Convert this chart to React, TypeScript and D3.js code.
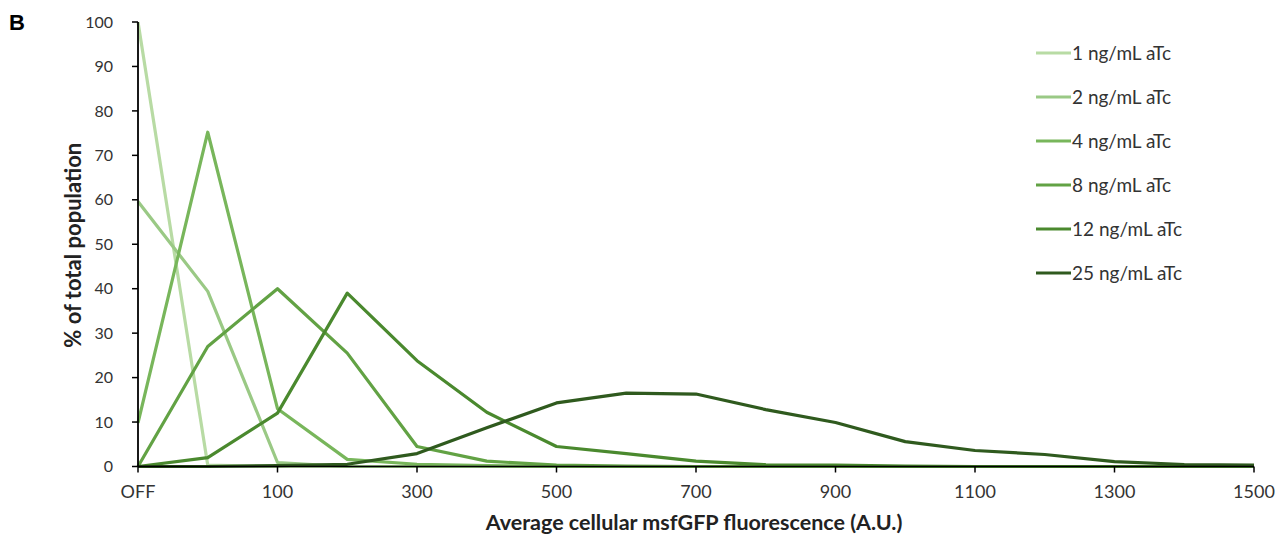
import React from "react";
import { scaleLinear, scalePoint, line } from "d3";

const categories = [
  "OFF", "0", "100", "200", "300", "400", "500", "600", "700",
  "800", "900", "1000", "1100", "1200", "1300", "1400", "1500",
];
const tickLabels = ["OFF", "100", "300", "500", "700", "900", "1100", "1300", "1500"];
const yTicks = [0, 10, 20, 30, 40, 50, 60, 70, 80, 90, 100];

const seriesNames = [
  "1 ng/mL aTc", "2 ng/mL aTc", "4 ng/mL aTc",
  "8 ng/mL aTc", "12 ng/mL aTc", "25 ng/mL aTc",
];
const seriesColors = ["#b8dba4", "#9ac985", "#78b65b", "#62a244", "#4a892e", "#2f5a1e"];

const ng1 = [100, 0.3, 0, 0, 0, 0, 0, 0, 0, 0, 0, 0, 0, 0, 0, 0, 0];
const ng2 = [59.6, 39.4, 0.9, 0, 0, 0, 0, 0, 0, 0, 0, 0, 0, 0, 0, 0, 0];
const ng4 = [9.8, 75.2, 13, 1.6, 0.5, 0.2, 0, 0, 0, 0, 0, 0, 0, 0, 0, 0, 0];
const ng8 = [0, 27, 40, 25.5, 4.5, 1.2, 0.3, 0.1, 0, 0, 0, 0, 0, 0, 0, 0, 0];
const ng12 = [0, 2, 12, 39, 23.8, 12.2, 4.5, 2.9, 1.2, 0.4, 0.3, 0.1, 0, 0, 0, 0, 0];
const ng25 = [0, 0, 0.2, 0.5, 2.9, 8.7, 14.3, 16.5, 16.3, 12.8, 9.9, 5.6, 3.6, 2.7, 1.1, 0.45, 0.3];

const allSeries = [ng1, ng2, ng4, ng8, ng12, ng25];

const width = 1275;
const height = 536;
const margin = { left: 138, right: 21, top: 22, bottom: 69.5 };
const font = "Lato, 'Open Sans', sans-serif";

const App = () => {
  const xScale = scalePoint<string>()
    .domain(categories)
    .range([margin.left, width - margin.right]);

  const yScale = scaleLinear()
    .domain([0, 100])
    .range([height - margin.bottom, margin.top]);

  const path = line<number>()
    .x((d, i) => xScale(categories[i]) as number)
    .y((d) => yScale(d));

  const y0 = yScale(0);

  return (
    <svg
      width={width}
      height={height}
      style={{ position: "absolute", left: 0, top: 0, background: "#fff" }}
    >
      <text x={9} y={30} fontFamily="Arial, 'Liberation Sans'" fontWeight="bold" fontSize={22}>
        B
      </text>

      {/* lines */}
      {allSeries.map((s, i) => (
        <path
          key={i}
          d={path(s) as string}
          fill="none"
          stroke={seriesColors[i]}
          strokeWidth={3.2}
          strokeLinejoin="round"
        />
      ))}

      {/* y axis */}
      <line x1={margin.left} x2={margin.left} y1={yScale(100)} y2={y0} stroke="#000" strokeWidth={1.8} />
      {yTicks.map((t) => (
        <g key={t}>
          <line x1={margin.left - 6} x2={margin.left} y1={yScale(t)} y2={yScale(t)} stroke="#000" strokeWidth={1.5} />
          <text
            x={margin.left - 25}
            y={yScale(t)}
            dy="0.35em"
            textAnchor="end"
            fontFamily={font}
            fontSize={16}
            fill="#333"
          >
            {t}
          </text>
        </g>
      ))}

      {/* x axis */}
      <line x1={margin.left} x2={width - margin.right} y1={y0} y2={y0} stroke="#000" strokeWidth={1.5} />
      {tickLabels.map((t) => (
        <g key={t}>
          <line
            x1={xScale(t) as number}
            x2={xScale(t) as number}
            y1={y0}
            y2={y0 + 6}
            stroke="#000"
            strokeWidth={1.5}
          />
          <text
            x={xScale(t) as number}
            y={y0 + 31}
            textAnchor="middle"
            fontFamily={font}
            fontSize={18}
            fill="#333"
          >
            {t}
          </text>
        </g>
      ))}

      {/* axis titles */}
      <text
        x={(xScale("700") as number) - 2}
        y={y0 + 63}
        textAnchor="middle"
        fontFamily={font}
        fontWeight="bold"
        fontSize={21.5}
        fill="#222"
      >
        Average cellular msfGFP fluorescence (A.U.)
      </text>
      <text
        transform={`translate(81, ${yScale(50) + 1}) rotate(-90)`}
        textAnchor="middle"
        fontFamily={font}
        fontWeight="bold"
        fontSize={22}
        fill="#222"
      >
        % of total population
      </text>

      {/* legend */}
      {seriesNames.map((name, i) => (
        <g key={name} transform={`translate(1036, ${53 + i * 44})`}>
          <line x1={0} x2={35} y1={0} y2={0} stroke={seriesColors[i]} strokeWidth={3.2} />
          <text x={36} y={0} dy="0.35em" fontFamily={font} fontSize={19} fill="#333">
            {name}
          </text>
        </g>
      ))}
    </svg>
  );
};

export default App;
